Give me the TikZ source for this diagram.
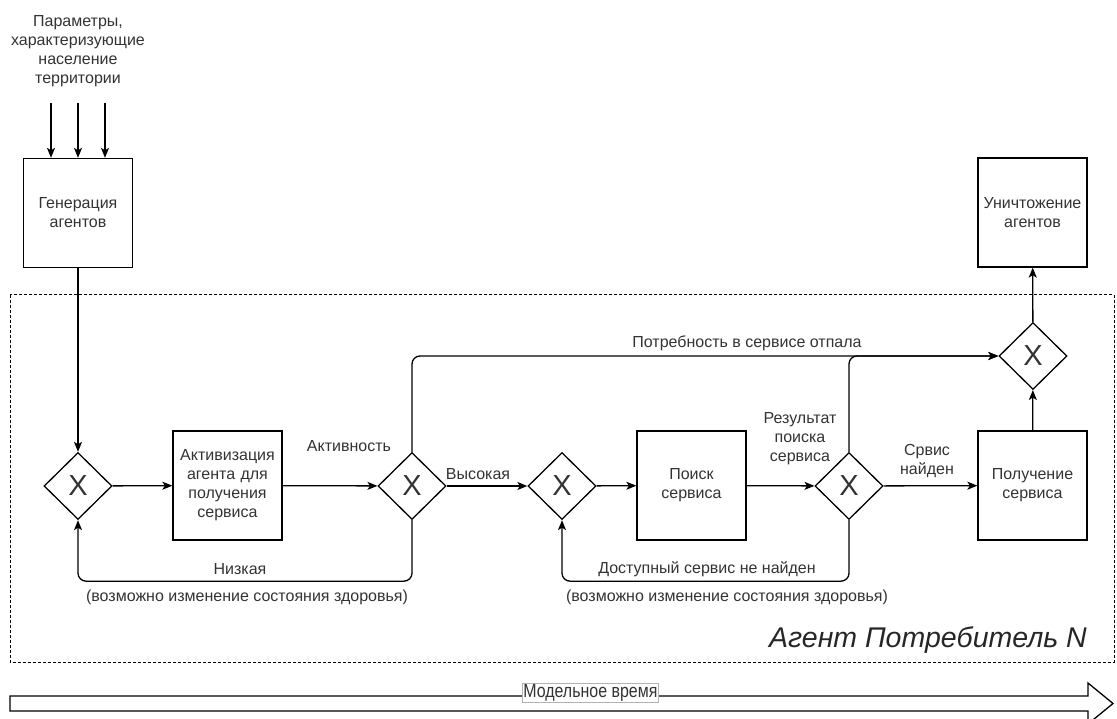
\documentclass[tikz,border=0pt]{standalone}
\usepackage{fontspec}
\setmainfont{Liberation Sans}
\usetikzlibrary{shapes.geometric,arrows.meta}
\definecolor{txt}{HTML}{333333}

\begin{document}
\begin{tikzpicture}[x=1pt,y=-1pt,
  every node/.style={text=txt},
  lbl/.style={font=\fontsize{16}{19}\selectfont, align=center, inner sep=0pt},
  proc/.style={draw=black, line width=1.3pt, minimum width=109pt, minimum height=109pt,
    inner sep=0pt, text width=105pt, align=center, font=\fontsize{16}{19}\selectfont},
  gw/.style={draw=black, diamond, line width=1.3pt, minimum width=68pt, minimum height=67pt,
    inner sep=0pt, label={[text=txt,inner sep=0pt,font=\fontsize{29}{29}\selectfont]center:X}},
  flow/.style={draw=black, line width=1.3pt, rounded corners=8pt,
    -{Stealth[length=10pt,width=8pt,inset=2.5pt]}},
]
\useasboundingbox (0,0) rectangle (1117,719);

% pool of the consumer agent
\draw[line width=1pt, dash pattern=on 3pt off 2pt] (10,295) rectangle (1114,662);
\node[font=\fontsize{28.5}{28.5}\selectfont\itshape, anchor=base east, inner sep=0pt, text=black!85]
  (poolname) at (1087,647) {Агент Потребитель N};

% input parameters
\node[lbl] (params) at (78,51) {Параметры,\\характеризующие\\население\\территории};
\coordinate (in1) at (51,103);
\coordinate (in2) at (78,103);
\coordinate (in3) at (105,103);

% process boxes
\node[proc] (gen)  at (78,213)     {Генерация\\агентов};
\node[proc] (act)  at (227.5,485.5) {Активизация\\агента для\\получения\\сервиса};
\node[proc] (find) at (691.5,485.5) {Поиск\\сервиса};
\node[proc] (get)  at (1032.5,485.5) {Получение\\сервиса};
\node[proc] (kill) at (1032.5,212.5) {Уничтожение\\агентов};

% exclusive gateways
\node[gw] (g1) at (78,486) {};
\node[gw] (g2) at (412,486) {};
\node[gw] (g3) at (562,486) {};
\node[gw] (g4) at (849,486) {};
\node[gw] (g5) at (1033,356) {};

% flows
\draw[flow] (in1) -- (in1 |- gen.north);
\draw[flow] (in2) -- (in2 |- gen.north);
\draw[flow] (in3) -- (in3 |- gen.north);
\draw[flow] (gen) -- (g1);
\draw[flow] (g1) -- (act);
\draw[flow] (act) -- (g2);
\draw[flow] (g2) -- (g3);
\draw[flow] (g3) -- (find);
\draw[flow] (find) -- (g4);
\draw[flow] (g4) -- (get);
\draw[flow] (get) -- (g5);
\draw[flow] (g5) -- (kill);
\draw[flow] (g2.north) |- (g5.west);
\draw[flow] (g4.north) |- (g5.west);
\draw[flow] (g2.south) -- ++(0,61) -| (g1.south);
\draw[flow] (g4.south) -- ++(0,61) -| (g3.south);

% flow labels
\node[lbl] (lact)  at (349,446) {Активность};
\node[lbl] (lhigh) at (478,474) {Высокая};
\node[lbl] (lres)  at (800,439) {Результат\\поиска\\сервиса};
\node[lbl] (lfound) at (927,461) {Срвис\\найден};
\node[lbl] (lneed) at (747,343) {Потребность в сервисе отпала};
\node[lbl] (llow)  at (240,569) {Низкая};
\node[lbl] (lhealth1) at (247,597) {(возможно изменение состояния здоровья)};
\node[lbl] (lnone) at (707,569) {Доступный сервис не найден};
\node[lbl] (lhealth2) at (727,597) {(возможно изменение состояния здоровья)};

% model time arrow
\draw[line width=1.3pt, fill=white] (10,696) -- (1088,696) -- (1088,683) -- (1113,703.5)
  -- (1088,724) -- (1088,711) -- (10,711) -- cycle;
\node[draw=black!30, line width=0.6pt, fill=white, inner sep=1pt, anchor=west,
  font=\fontsize{19}{19}\selectfont] (time) at (522,692.5)
  {\scalebox{0.84}[1]{Модельное время}};
\end{tikzpicture}
\end{document}
